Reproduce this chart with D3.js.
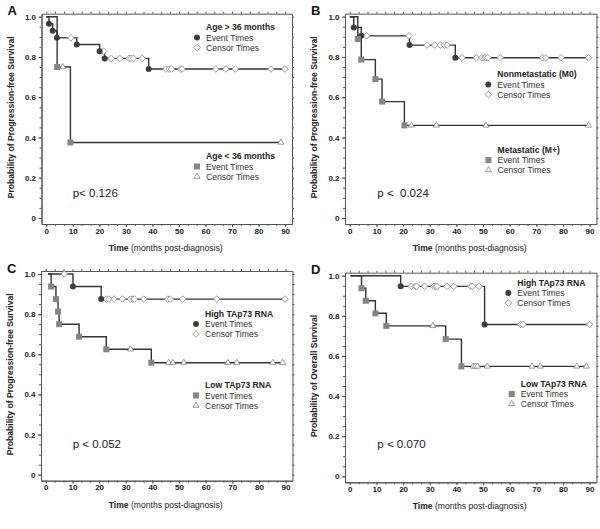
<!DOCTYPE html>
<html lang="en">
  <head>
    <meta charset="utf-8" />
    <title>Kaplan-Meier panels</title>
    <script type="text/javascript" src="https://cdn.jsdelivr.net/npm/d3@7"></script>
    <style type="text/css">
      body { margin: 0; background: #fff; }
      svg { display: block; font-family: "Liberation Sans", Arial, sans-serif; }
    </style>
  </head>
  <body>
    <script type="text/javascript">
      // axis ticks
      var timeTicks = [0, 10, 20, 30, 40, 50, 60, 70, 80, 90];
      var probTicks = [0, 0.2, 0.4, 0.6, 0.8, 1.0];
      var probLabels = ["0", "0.2", "0.4", "0.6", "0.8", "1.0"];

      // A: age groups  [month, survival]
      var aOldEvents = [[1, 0.965], [2.4, 0.93], [4, 0.895], [11.5, 0.862], [20.1, 0.828], [22, 0.793], [38.6, 0.74]];
      var aOldCensors = [[9.3, 0.895], [21.6, 0.828], [24.5, 0.793], [27.7, 0.793], [31.2, 0.793], [32, 0.793], [32.9, 0.793], [36.1, 0.793],
        [45.1, 0.74], [46.3, 0.74], [47.2, 0.74], [50.7, 0.74], [51.2, 0.74], [63.9, 0.74], [67.7, 0.74], [71.2, 0.74], [84.7, 0.74], [89.9, 0.74]];
      var aYoungEvents = [[4.1, 0.75], [9.1, 0.375]];
      var aYoungCensors = [[6.2, 0.75], [88.4, 0.375]];

      // B: metastatic status
      var bM0Events = [[1.5, 0.947], [4.3, 0.905], [22.4, 0.859], [39.6, 0.796]];
      var bM0Censors = [[6.3, 0.905], [22.2, 0.905], [29, 0.859], [31.9, 0.859], [34, 0.859], [35.6, 0.859], [36.5, 0.859],
        [42.1, 0.796], [47.5, 0.796], [49.6, 0.796], [50.5, 0.796], [51.1, 0.796], [51.8, 0.796], [56.5, 0.796], [72.4, 0.796],
        [73.6, 0.796], [79.3, 0.796], [89.6, 0.796]];
      var bMetEvents = [[3, 0.889], [4.3, 0.787], [9.6, 0.69], [12.1, 0.578], [20.5, 0.46]];
      var bMetCensors = [[23.1, 0.46], [32.5, 0.46], [51.1, 0.46], [89.6, 0.46]];

      // C: TAp73 RNA, progression-free
      var cHighEvents = [[10.2, 0.9375], [20.8, 0.875]];
      var cHighCensors = [[6.9, 1.0], [22.7, 0.875], [23.7, 0.875], [25.6, 0.875], [28.7, 0.875], [31.8, 0.875], [32.7, 0.875],
        [33.3, 0.875], [36.8, 0.875], [45.8, 0.875], [46.7, 0.875], [51.4, 0.875], [64.2, 0.875], [89.8, 0.875]];
      var cLowEvents = [[2, 0.9375], [3.8, 0.875], [4.6, 0.8125], [5, 0.75], [12.5, 0.6875], [22.7, 0.625], [39.6, 0.558]];
      var cLowCensors = [[31.8, 0.625], [46.1, 0.558], [47.7, 0.558], [51.8, 0.558], [68.3, 0.558], [71.7, 0.558], [85.2, 0.558], [88.9, 0.558]];

      // D: TAp73 RNA, overall
      var dHighEvents = [[19.1, 0.947], [50.6, 0.757]];
      var dHighCensors = [[23.1, 0.947], [24.6, 0.947], [25.1, 0.947], [28.1, 0.947], [31.6, 0.947], [32.3, 0.947], [32.8, 0.947],
        [36.5, 0.947], [39, 0.947], [45.4, 0.947], [46, 0.947], [48.5, 0.947], [64.1, 0.757], [65, 0.757], [90, 0.757]];
      var dLowEvents = [[4.4, 0.9375], [6, 0.875], [9.6, 0.8125], [13.7, 0.75], [36, 0.684], [41.9, 0.548]];
      var dLowCensors = [[31.2, 0.75], [46.3, 0.548], [47.1, 0.548], [47.9, 0.548], [51.6, 0.548], [68.4, 0.548], [71.5, 0.548], [85.2, 0.548], [88.8, 0.548]];

      var w = 600;
      var h = 529;
      var lineCol = "#333";
      var darkCol = "#3d3d3d";
      var greyCol = "#858585";

      var svg = d3.select("body").append("svg").attr("width", w).attr("height", h);

      var panels = [
        {
          letter: "A", box: [41.5, 292, 13.7, 224], yTitle: "Probability of Progression-free Survival",
          pText: "p< 0.126", pPos: [72.7, 196.5], start: 0,
          groups: [
            { name: "Age > 36 months", events: aOldEvents, censors: aOldCensors, dark: true, leg: [197, 30] },
            { name: "Age < 36 months", events: aYoungEvents, censors: aYoungCensors, dark: false, leg: [197, 159] }
          ]
        },
        {
          letter: "B", box: [345, 596.5, 13.7, 224], yTitle: "Probability of Progression-free Survival",
          pText: "p <  0.024", pPos: [377.3, 197], start: 0,
          groups: [
            { name: "Nonmetastatic (M0)", events: bM0Events, censors: bM0Censors, dark: true, leg: [488.3, 77] },
            { name: "Metastatic (M+)", events: bMetEvents, censors: bMetCensors, dark: false, leg: [488.5, 152.5] }
          ]
        },
        {
          letter: "C", box: [41, 292.5, 271, 480.7], yTitle: "Probability of Progression-free Survival",
          pText: "p < 0.052", pPos: [72.7, 448], start: 0.9,
          groups: [
            { name: "High TAp73 RNA", events: cHighEvents, censors: cHighCensors, dark: true, leg: [196, 316.5] },
            { name: "Low TAp73 RNA", events: cLowEvents, censors: cLowCensors, dark: false, leg: [196, 388] }
          ]
        },
        {
          letter: "D", box: [345, 596.5, 272.7, 482.3], yTitle: "Probability of Overall Survival",
          pText: "p < 0.070", pPos: [377.3, 448], start: 0.3,
          groups: [
            { name: "High TAp73 RNA", events: dHighEvents, censors: dHighCensors, dark: true, leg: [508.3, 285.5] },
            { name: "Low TAp73 RNA", events: dLowEvents, censors: dLowCensors, dark: false, leg: [511.7, 386.5] }
          ]
        }
      ];

      var minorX = d3.range(0, 91, 10 / 3);
      var minorY = d3.range(0, 1.001, 0.05);

      panels.forEach(function (p) {
        var L = p.box[0], R = p.box[1], T = p.box[2], B = p.box[3];
        var x = d3.scaleLinear().domain([-1.8, 92.6]).range([L, R]);
        var y = d3.scaleLinear().domain([-0.03, 1.015]).range([B, T]);
        var g = svg.append("g");

        // frame + ticks
        function styleAxis(sel) {
          sel.selectAll("path, line").attr("stroke", "#555").attr("stroke-width", 1);
          sel.selectAll("text").attr("fill", "#222").attr("font-size", "8px").attr("font-weight", "bold")
            .attr("font-family", "'Liberation Sans', Arial, sans-serif");
        }
        g.append("g").attr("transform", "translate(0," + B + ")")
          .call(d3.axisBottom(x).tickValues(minorX).tickSize(2).tickSizeOuter(0).tickFormat(""))
          .call(styleAxis);
        g.append("g").attr("transform", "translate(0," + B + ")")
          .call(d3.axisBottom(x).tickValues(timeTicks).tickSize(3).tickSizeOuter(0).tickPadding(1).tickFormat(d3.format("d")))
          .call(styleAxis);
        g.append("g").attr("transform", "translate(0," + T + ")")
          .call(d3.axisTop(x).tickValues(minorX).tickSize(2).tickSizeOuter(0).tickFormat(""))
          .call(styleAxis);
        g.append("g").attr("transform", "translate(" + L + ",0)")
          .call(d3.axisLeft(y).tickValues(minorY).tickSize(2).tickSizeOuter(0).tickFormat(""))
          .call(styleAxis);
        g.append("g").attr("transform", "translate(" + L + ",0)")
          .call(d3.axisLeft(y).tickValues(probTicks).tickSize(3).tickSizeOuter(0).tickPadding(2.5)
            .tickFormat(function (d, i) { return probLabels[i]; }))
          .call(styleAxis);
        g.append("g").attr("transform", "translate(" + R + ",0)")
          .call(d3.axisRight(y).tickValues(minorY).tickSize(2).tickSizeOuter(0).tickFormat(""))
          .call(styleAxis);

        // titles
        var xt = g.append("text").attr("x", (x(0) + x(90)) / 2).attr("y", B + 27)
          .attr("text-anchor", "middle").attr("font-size", "8.6px").attr("fill", "#222");
        xt.append("tspan").attr("font-weight", "bold").text("Time");
        xt.append("tspan").text(" (months post-diagnosis)");

        g.append("text")
          .attr("transform", "translate(" + (L - 28) + "," + (y(0.5)) + ") rotate(-90)")
          .attr("text-anchor", "middle").attr("font-size", "8.6px").attr("font-weight", "bold").attr("fill", "#222")
          .text(p.yTitle);

        g.append("text").attr("x", L - 34).attr("y", T + 1.5)
          .attr("font-size", "13px").attr("font-weight", "bold").attr("fill", "#111").text(p.letter);

        g.append("text").attr("x", p.pPos[0]).attr("y", p.pPos[1])
          .attr("font-size", "11.5px").attr("fill", "#222").style("white-space", "pre").text(p.pText);

        // curves
        p.groups.forEach(function (grp) {
          var last = d3.max(grp.censors.concat(grp.events), function (d) { return d[0]; });
          var pts = [[p.start, 1]];
          var cur = 1;
          grp.events.forEach(function (e) {
            pts.push([e[0], cur]);
            pts.push([e[0], e[1]]);
            cur = e[1];
          });
          pts.push([last, cur]);
          g.append("path").datum(pts)
            .attr("d", d3.line().x(function (d) { return x(d[0]); }).y(function (d) { return y(d[1]); }))
            .attr("fill", "none").attr("stroke", lineCol).attr("stroke-width", 1.4);
        });

        p.groups.forEach(function (grp) {
          drawCensors(g, grp.censors.map(function (d) { return [x(d[0]), y(d[1])]; }), grp.dark);
        });
        p.groups.forEach(function (grp) {
          drawEvents(g, grp.events.map(function (d) { return [x(d[0]), y(d[1])]; }), grp.dark);
        });

        // legends
        p.groups.forEach(function (grp) {
          var lx = grp.leg[0], ly = grp.leg[1];
          g.append("text").attr("x", lx + 9).attr("y", ly).attr("font-size", "8.6px")
            .attr("font-weight", "bold").attr("fill", "#222").text(grp.name);
          drawEvents(g, [[lx, ly + 7.5]], grp.dark);
          drawCensors(g, [[lx, ly + 17.5]], grp.dark);
          g.append("text").attr("x", lx + 9).attr("y", ly + 10.7).attr("font-size", "8.6px").attr("fill", "#333").text("Event Times");
          g.append("text").attr("x", lx + 9).attr("y", ly + 20.7).attr("font-size", "8.6px").attr("fill", "#333").text("Censor Times");
        });
      });

      function drawEvents(g, pts, dark) {
        if (dark) {
          g.selectAll(null).data(pts).enter().append("circle")
            .attr("cx", function (d) { return d[0]; }).attr("cy", function (d) { return d[1]; })
            .attr("r", 3).attr("fill", darkCol);
        } else {
          g.selectAll(null).data(pts).enter().append("rect")
            .attr("x", function (d) { return d[0] - 3; }).attr("y", function (d) { return d[1] - 3; })
            .attr("width", 6).attr("height", 6).attr("fill", greyCol);
        }
      }

      function drawCensors(g, pts, dark) {
        var sym = dark ? d3.symbol().type(d3.symbolDiamond2).size(28) : d3.symbol().type(d3.symbolTriangle2).size(26);
        g.selectAll(null).data(pts).enter().append("path")
          .attr("transform", function (d) { return "translate(" + d[0] + "," + d[1] + ")"; })
          .attr("d", sym)
          .attr("fill", "#fff").attr("stroke", greyCol).attr("stroke-width", 0.8);
      }
    </script>
  </body>
</html>
